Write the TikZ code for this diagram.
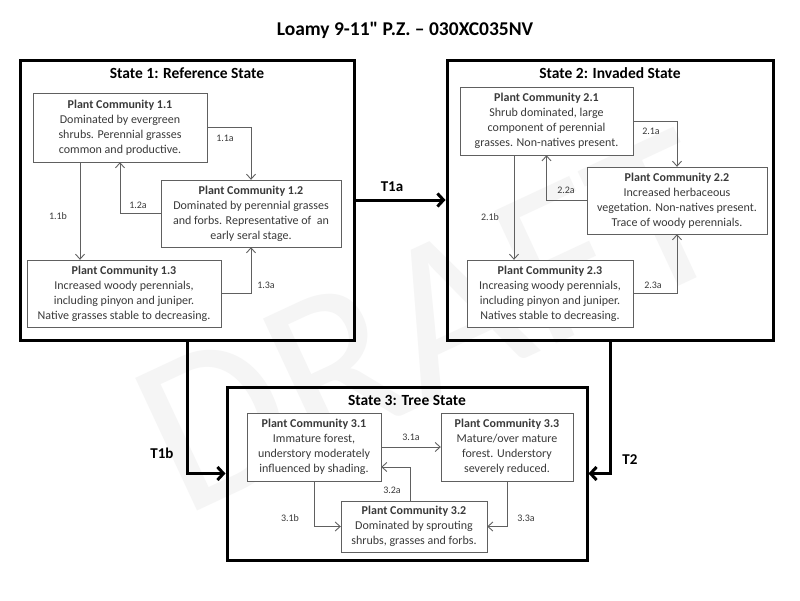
\documentclass[tikz,border=0pt]{standalone}
\usepackage{fontspec}
\setmainfont{Carlito}
\newfontfamily\titlefont{Carlito}[Ligatures=TeXOff]
\usetikzlibrary{arrows.meta}

\definecolor{textgray}{HTML}{3A3A3A}
\definecolor{linegray}{HTML}{606060}

\begin{document}
\begin{tikzpicture}[x=1pt,y=-1pt,
    community/.style={draw=linegray, fill=white, text=textgray, font=\fontsize{12}{15}\selectfont,
      align=center, inner sep=1pt},
    statebox/.style={draw=black, line width=3pt},
    statetitle/.style={font=\fontsize{15.5}{18}\selectfont\bfseries},
    pathway/.style={draw=linegray, line width=0.9pt, -{Straight Barb[length=5pt,width=9pt]}},
    pathlabel/.style={font=\fontsize{10}{12}\selectfont, text=textgray},
    transition/.style={line width=3pt, -{Straight Barb[length=6pt,width=13pt,line width=3pt]}},
    translabel/.style={font=\fontsize{15}{17}\selectfont\bfseries}]
  \useasboundingbox (0,0) rectangle (800,600);
  \fill[white] (0,0) rectangle (800,600);

  % watermark
  \node[text=gray!8, font=\fontsize{228}{228}\selectfont, rotate=25] (draft) at (430,322) {DRAFT};

  % title
  \node[font=\titlefont\fontsize{19.5}{22}\selectfont\bfseries] (title) at (405,30) {Loamy 9-11" P.Z. – 030XC035NV};

  % State 1 - Reference
  \node[statebox, minimum width=334, minimum height=280] (s1) at (187,200) {};
  \node[statetitle] (s1title) at (187,73) {State 1: Reference State};
  \node[community, minimum width=174, minimum height=69] (pc11) at (120,127.5)
    {\textbf{Plant Community 1.1}\\Dominated by evergreen\\shrubs. Perennial grasses\\common and productive.};
  \node[community, minimum width=180, minimum height=67] (pc12) at (251,213.5)
    {\textbf{Plant Community 1.2}\\Dominated by perennial grasses\\and forbs. Representative of\ \ an\\early seral stage.};
  \node[community, minimum width=194, minimum height=67] (pc13) at (124,293.5)
    {\textbf{Plant Community 1.3}\\Increased woody perennials,\\including pinyon and juniper.\\Native grasses stable to decreasing.};
  \draw[pathway] (pc11) -| (pc12);
  \draw[pathway] (pc12) -| (pc11);
  \draw[pathway] ([xshift=-40]pc11.south) -- ([xshift=-40]pc11.south |- pc13.north);
  \draw[pathway] (pc13) -| (pc12);
  \node[pathlabel] (l11a) at (225,138) {1.1a};
  \node[pathlabel] (l12a) at (138,205) {1.2a};
  \node[pathlabel] (l11b) at (58,216) {1.1b};
  \node[pathlabel] (l13a) at (266,285) {1.3a};

  % State 2 - Invaded
  \node[statebox, minimum width=326, minimum height=280] (s2) at (610,200) {};
  \node[statetitle] (s2title) at (610,73) {State 2: Invaded State};
  \node[community, minimum width=173, minimum height=68] (pc21) at (546.5,121)
    {\textbf{Plant Community 2.1}\\Shrub dominated, large\\component of perennial\\grasses. Non-natives present.};
  \node[community, minimum width=180, minimum height=67] (pc22) at (677,200.5)
    {\textbf{Plant Community 2.2}\\Increased herbaceous\\vegetation. Non-natives present.\\Trace of woody perennials.};
  \node[community, minimum width=166, minimum height=67] (pc23) at (550,293.5)
    {\textbf{Plant Community 2.3}\\Increasing woody perennials,\\including pinyon and juniper.\\Natives stable to decreasing.};
  \draw[pathway] (pc21) -| (pc22);
  \draw[pathway] (pc22) -| (pc21);
  \draw[pathway] ([xshift=-32.5]pc21.south) -- ([xshift=-32.5]pc21.south |- pc23.north);
  \draw[pathway] (pc23) -| (pc22);
  \node[pathlabel] (l21a) at (651,131) {2.1a};
  \node[pathlabel] (l22a) at (566,190) {2.2a};
  \node[pathlabel] (l21b) at (490,217) {2.1b};
  \node[pathlabel] (l23a) at (653,285) {2.3a};

  % State 3 - Tree
  \node[statebox, minimum width=360, minimum height=173] (s3) at (407,473.5) {};
  \node[statetitle] (s3title) at (407,400) {State 3: Tree State};
  \node[community, minimum width=134, minimum height=68] (pc31) at (314,447)
    {\textbf{Plant Community 3.1}\\Immature forest,\\understory moderately\\influenced by shading.};
  \node[community, minimum width=132, minimum height=68] (pc33) at (507,447)
    {\textbf{Plant Community 3.3}\\Mature/over mature\\forest. Understory\\severely reduced.};
  \node[community, minimum width=146, minimum height=51] (pc32) at (414,526.5)
    {\textbf{Plant Community 3.2}\\Dominated by sprouting\\shrubs, grasses and forbs.};
  \draw[pathway] (pc31) -- (pc33);
  \draw[pathway] (pc32.north -| 410,0) |- (pc31.east |- 0,467);
  \draw[pathway] (pc31) |- (pc32);
  \draw[pathway] (pc33) |- (pc32);
  \node[pathlabel] (l31a) at (411,437) {3.1a};
  \node[pathlabel] (l32a) at (392,490) {3.2a};
  \node[pathlabel] (l31b) at (290,518) {3.1b};
  \node[pathlabel] (l33a) at (526,518) {3.3a};

  % transitions between states
  \draw[transition] (s1) -- (s2);
  \draw[transition] (s1) |- (s3);
  \draw[transition] (s2) |- (s3);
  \node[translabel] (t1a) at (392,187) {T1a};
  \node[translabel] (t1b) at (162,453) {T1b};
  \node[translabel] (t2) at (630,460) {T2};
\end{tikzpicture}
\end{document}
